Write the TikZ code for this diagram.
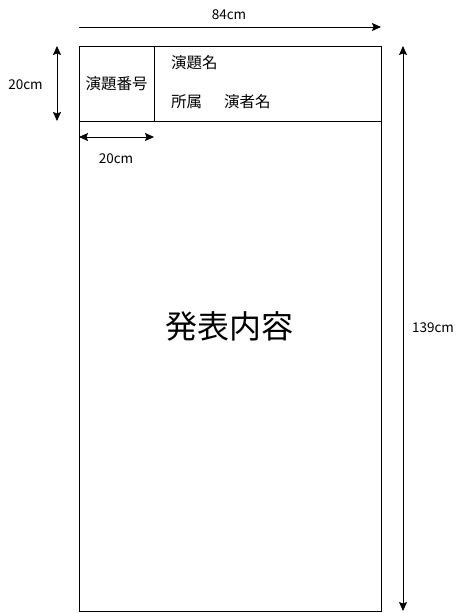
\documentclass[tikz,border=0pt]{standalone}
\usepackage{fontspec}
\newfontfamily\jp{Noto Sans CJK JP}
\usetikzlibrary{arrows.meta,positioning}
\begin{document}
\begin{tikzpicture}[
   x=1pt,y=-1pt,
   font=\jp\fontsize{15.5}{18}\selectfont,
   box/.style={draw,line width=0.8pt,inner sep=0pt,outer sep=0pt},
   tip/.tip={Stealth[length=9pt,width=8pt,inset=1.5pt]},
   dim/.style={line width=0.8pt,tip-tip},
   toward/.style={line width=0.8pt,-tip},
   size/.style={font=\jp\fontsize{13.5}{15}\selectfont},
   entry/.style={anchor=west,inner sep=0pt},
   every node/.style={}]
\useasboundingbox (0,0) rectangle (464,613);
\node[box,minimum width=302pt,minimum height=565pt,anchor=north west] (poster) at (79,46) {};
\node[box,minimum width=302pt,minimum height=75.3pt,anchor=north west] (head) at (poster.north west) {};
\node[box,minimum width=75.3pt,minimum height=75.3pt,anchor=north west] (num) at (poster.north west) {演題番号};
\node[entry] (title) at (171,62.5) {演題名};
\node[entry] (affil) at (171,102) {所属};
\node[entry] (author) at (224,102) {演者名};
\node[font=\jp\fontsize{32}{36}\selectfont] (content) at (229,326) {発表内容};
% dimensions
\coordinate (w-a) at (79,27);  \coordinate (w-b) at (381,27);
\coordinate (h-a) at (57,46);  \coordinate (h-b) at (57,121);
\coordinate (n-a) at (79,137); \coordinate (n-b) at (154,137);
\coordinate (l-a) at (403,46); \coordinate (l-b) at (403,611);
\draw[toward] (w-a) -- (w-b);
\draw[dim] (h-a) -- (h-b);
\draw[dim] (n-a) -- (n-b);
\draw[dim] (l-a) -- (l-b);
\node[size] (w-t) at (229,15) {84cm};
\node[size] (h-t) at (25.5,85) {20cm};
\node[size] (n-t) at (116,159) {20cm};
\node[size] (l-t) at (433,328) {139cm};
\end{tikzpicture}
\end{document}
